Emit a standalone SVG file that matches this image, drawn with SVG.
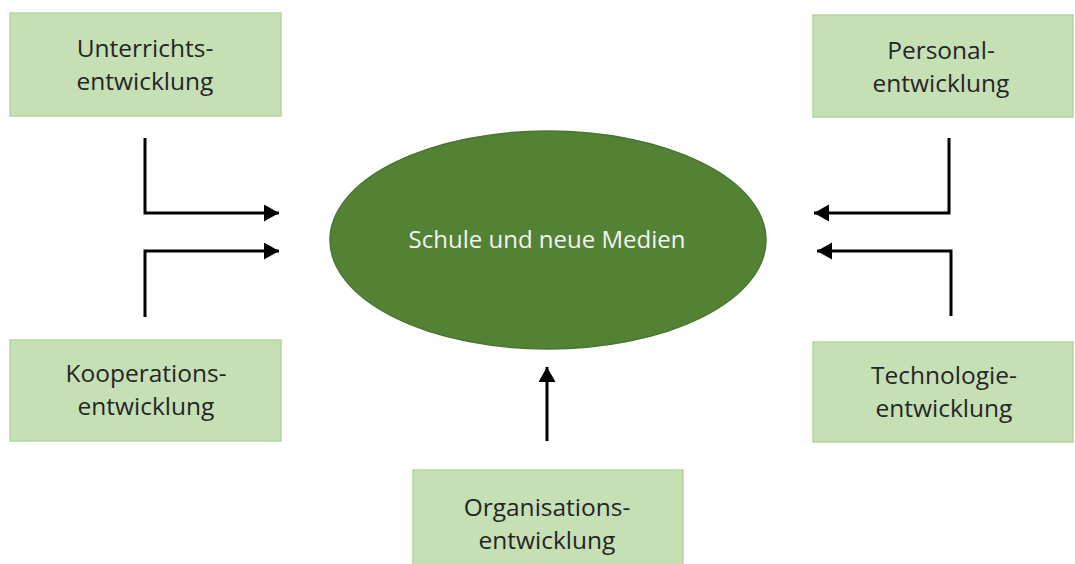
<svg xmlns="http://www.w3.org/2000/svg" width="1075" height="564" viewBox="0 0 1075 564">
<style>
.box{fill:#C5E0B4;stroke:#B4D59E;stroke-width:1.5}
.lbl{font-family:"Open Sans","Liberation Sans",sans-serif;font-size:24.5px;fill:#262626;text-anchor:middle}
.ctr{font-family:"Open Sans","Liberation Sans",sans-serif;font-size:24px;fill:#F2F2F2;text-anchor:middle}
.con{fill:none;stroke:#000;stroke-width:3}
</style>
<defs>
<marker id="ah" markerUnits="userSpaceOnUse" markerWidth="16" markerHeight="18" refX="15" refY="8.5" orient="auto">
<path d="M0,0 L15,8.5 L0,17 Z" fill="#000"/>
</marker>
</defs>
<rect width="1075" height="564" fill="#fff"/>
<g id="center">
<ellipse cx="548" cy="240" rx="218" ry="109" fill="#548235" stroke="#4A7530" stroke-width="1.5"/>
<text class="ctr" x="547" y="248">Schule und neue Medien</text>
</g>
<g id="unterricht">
<rect class="box" x="10" y="13" width="271" height="103"/>
<text class="lbl" x="145" y="57">Unterrichts-</text>
<text class="lbl" x="145" y="90">entwicklung</text>
</g>
<g id="personal">
<rect class="box" x="813" y="15" width="260" height="102"/>
<text class="lbl" x="941" y="59">Personal-</text>
<text class="lbl" x="941" y="92">entwicklung</text>
</g>
<g id="kooperation">
<rect class="box" x="10" y="340" width="271" height="101"/>
<text class="lbl" x="146" y="382">Kooperations-</text>
<text class="lbl" x="146" y="415">entwicklung</text>
</g>
<g id="technologie">
<rect class="box" x="813" y="342" width="260" height="100"/>
<text class="lbl" x="944" y="384">Technologie-</text>
<text class="lbl" x="944" y="417">entwicklung</text>
</g>
<g id="organisation">
<rect class="box" x="413" y="470" width="270" height="100"/>
<text class="lbl" x="547" y="516">Organisations-</text>
<text class="lbl" x="547" y="549">entwicklung</text>
</g>
<g id="connectors">
<path class="con" d="M145,138 V213 H279" marker-end="url(#ah)"/>
<path class="con" d="M145,317 V251 H279" marker-end="url(#ah)"/>
<path class="con" d="M949,138 V213 H814" marker-end="url(#ah)"/>
<path class="con" d="M951,316 V251 H817" marker-end="url(#ah)"/>
<path class="con" d="M547,441 V367" marker-end="url(#ah)"/>
</g>
</svg>
